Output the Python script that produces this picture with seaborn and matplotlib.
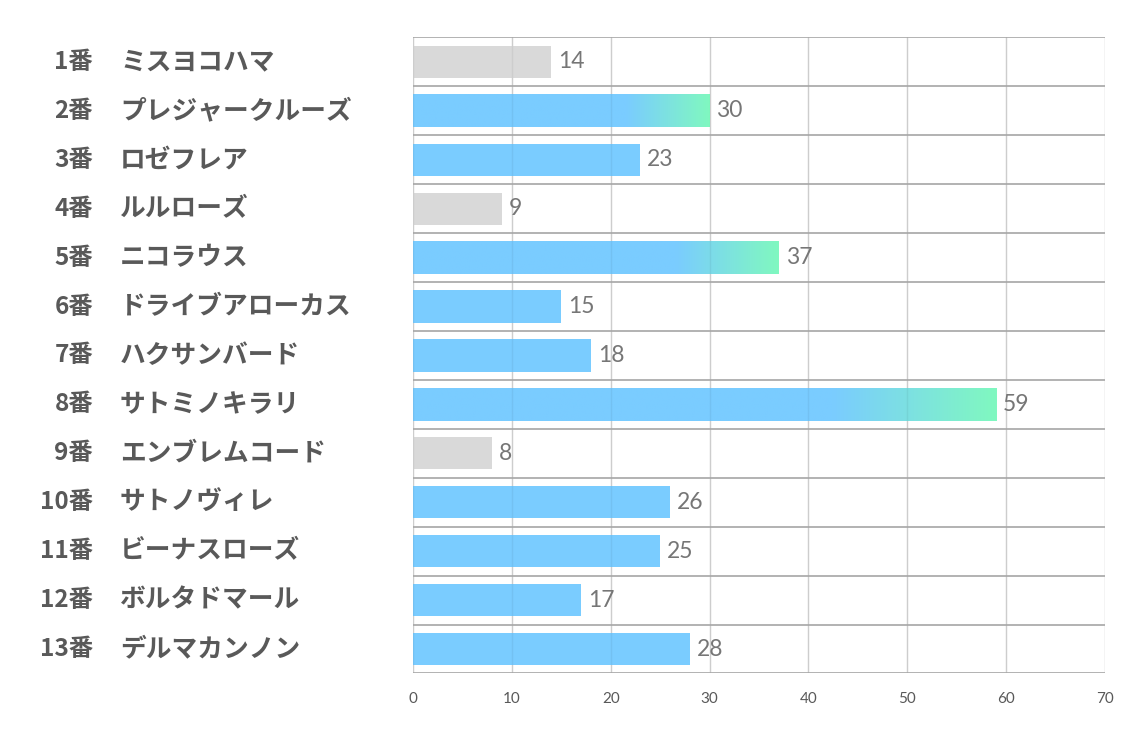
import numpy as np
import pandas as pd
import seaborn as sns
import matplotlib.pyplot as plt
from matplotlib.colors import to_rgb
from matplotlib.transforms import blended_transform_factory

# data
numbers = ["1番", "2番", "3番", "4番", "5番", "6番", "7番",
           "8番", "9番", "10番", "11番", "12番", "13番"]
horses = ["ミスヨコハマ", "プレジャークルーズ", "ロゼフレア", "ルルローズ",
          "ニコラウス", "ドライブアローカス", "ハクサンバード", "サトミノキラリ",
          "エンブレムコード", "サトノヴィレ", "ビーナスローズ", "ボルタドマール",
          "デルマカンノン"]
values = [14, 30, 23, 9, 37, 15, 18, 59, 8, 26, 25, 17, 28]
# bar style: grey / blue / gradient (blue -> green)
kinds = ["grey", "grad", "blue", "grey", "grad", "blue", "blue",
         "grad", "grey", "blue", "blue", "blue", "blue"]
xticks = [0, 10, 20, 30, 40, 50, 60, 70]

BLUE = "#7accff"
GREEN = "#80f8c0"
GREY = "#d9d9d9"

sns.set_style("white")
plt.rcParams["font.family"] = ["Noto Sans CJK JP", "DejaVu Sans"]

df = pd.DataFrame({"label": [n + h for n, h in zip(numbers, horses)],
                   "value": values, "kind": kinds})
pal = {"grey": GREY, "blue": BLUE, "grad": BLUE}

fig = plt.figure(figsize=(11.34, 7.37), dpi=100)
ax = fig.add_axes([0.3642, 0.0862, 0.6102, 0.8630])

sns.barplot(data=df, x="value", y="label", hue="kind", palette=pal,
            orient="h", width=0.66, legend=False, dodge=False, ax=ax,
            linewidth=0, saturation=1)

ax.set_xlim(0, 70)
ax.set_ylim(len(values) - 0.5, -0.5)

# gradient overlays for the marked bars
c1 = np.array(to_rgb(BLUE))
c2 = np.array(to_rgb(GREEN))
t = np.linspace(0, 1, 256)
w = np.clip((t - 0.72) / 0.28, 0, 1)[:, None]
grad = (c1 * (1 - w) + c2 * w)[None, :, :]
for i, (v, k) in enumerate(zip(values, kinds)):
    if k == "grad":
        ax.imshow(grad, extent=[0, v, i + 0.33, i - 0.33], aspect="auto",
                  zorder=2.5, interpolation="bilinear")
ax.set_xlim(0, 70)
ax.set_ylim(len(values) - 0.5, -0.5)

# grid: light verticals (faintly visible through bars), darker row separators
for x in xticks:
    ax.axvline(x, color="#d9d9d9", lw=1, zorder=0)
    ax.axvline(x, color="black", alpha=0.05, lw=1, zorder=3)
for b in np.arange(-0.5, len(values), 1.0):
    ax.axhline(b, color="#a6a6a6", lw=1.2, zorder=3)

for s in ax.spines.values():
    s.set_visible(False)

ax.set_xticks(xticks)
ax.set_xticklabels([str(x) for x in xticks], fontsize=11, color="#595959",
                   family=["Lato", "DejaVu Sans"])
ax.tick_params(axis="x", length=0, pad=13)
ax.set_yticks([])
ax.set_xlabel("")
ax.set_ylabel("")

# value labels
for i, v in enumerate(values):
    ax.annotate(str(v), (v, i), xytext=(5, 0), textcoords="offset points",
                va="center", ha="left", fontsize=16.5, color="#767676",
                family=["Lato", "DejaVu Sans"], zorder=4)

# row labels: number column right aligned, name column left aligned
tr = blended_transform_factory(fig.transFigure, ax.transData)
for i, (n, h) in enumerate(zip(numbers, horses)):
    ax.text(93 / 1134, i, n, transform=tr, ha="right", va="center",
            fontsize=17.5, fontweight="bold", color="#595959")
    ax.text(120 / 1134, i, h, transform=tr, ha="left", va="center",
            fontsize=18.5, fontweight="bold", color="#595959")

fig.savefig("out.png", dpi=100)
